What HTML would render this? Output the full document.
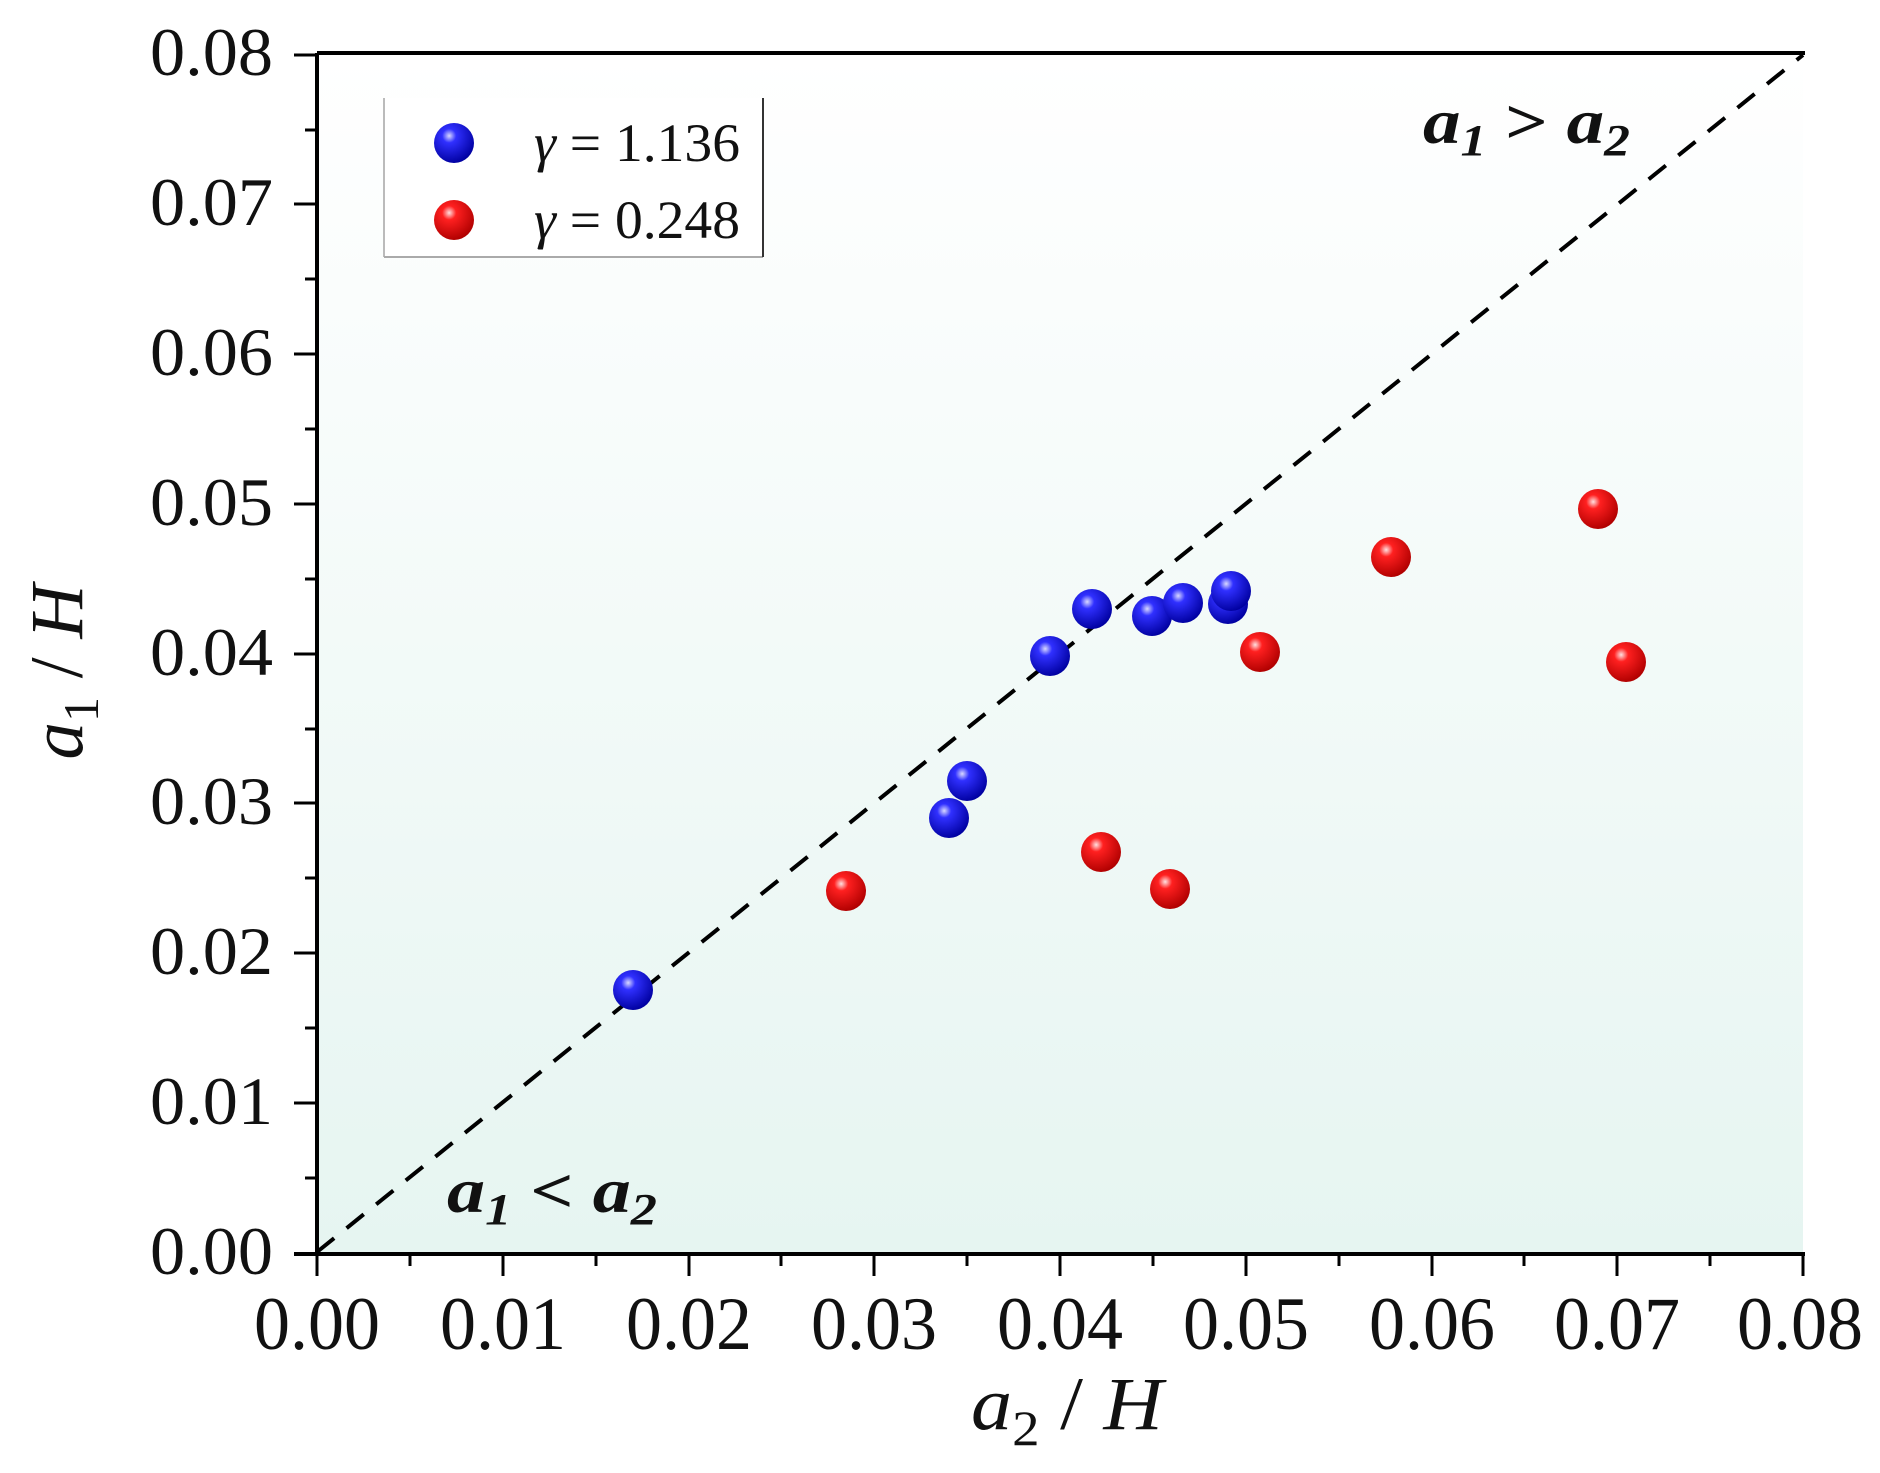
<!DOCTYPE html>
<html><head><meta charset="utf-8"><style>html,body{margin:0;padding:0;background:#fff} svg text{font-family:"Liberation Serif",serif}</style></head>
<body>
<svg width="1880" height="1468" viewBox="0 0 1880 1468" xmlns="http://www.w3.org/2000/svg">
<defs>
<linearGradient id="bg" x1="0" y1="0" x2="0" y2="1"><stop offset="0" stop-color="#ffffff"/><stop offset="1" stop-color="#e6f5f1"/></linearGradient>
<radialGradient id="gb" cx="0.38" cy="0.32" r="0.7"><stop offset="0" stop-color="#d8d8ff"/><stop offset="0.25" stop-color="#3030ff"/><stop offset="1" stop-color="#0000a0"/></radialGradient>
<radialGradient id="gr" cx="0.38" cy="0.32" r="0.7"><stop offset="0" stop-color="#ffe0e0"/><stop offset="0.25" stop-color="#ff2020"/><stop offset="1" stop-color="#b00000"/></radialGradient>
</defs>
<rect x="317" y="55" width="1486" height="1197" fill="url(#bg)"/>
<line x1="317" y1="1252" x2="1803" y2="55" stroke="#000" stroke-width="4" stroke-dasharray="22,16"/>
<g stroke="#000" stroke-width="4" fill="none">
<line x1="317" y1="53" x2="1805" y2="53"/>
<line x1="317" y1="53" x2="317" y2="1254"/>
<line x1="294" y1="1254" x2="1805" y2="1254"/>
</g>
<g stroke="#000" stroke-width="3">
<line x1="294" y1="55" x2="317" y2="55"/><line x1="305" y1="130" x2="317" y2="130"/>
<line x1="294" y1="204" x2="317" y2="204"/><line x1="305" y1="279" x2="317" y2="279"/>
<line x1="294" y1="354" x2="317" y2="354"/><line x1="305" y1="429" x2="317" y2="429"/>
<line x1="294" y1="504" x2="317" y2="504"/><line x1="305" y1="579" x2="317" y2="579"/>
<line x1="294" y1="654" x2="317" y2="654"/><line x1="305" y1="729" x2="317" y2="729"/>
<line x1="294" y1="803" x2="317" y2="803"/><line x1="305" y1="878" x2="317" y2="878"/>
<line x1="294" y1="953" x2="317" y2="953"/><line x1="305" y1="1028" x2="317" y2="1028"/>
<line x1="294" y1="1103" x2="317" y2="1103"/><line x1="305" y1="1178" x2="317" y2="1178"/>
<line x1="317" y1="1254" x2="317" y2="1276"/><line x1="410" y1="1254" x2="410" y2="1266"/>
<line x1="503" y1="1254" x2="503" y2="1276"/><line x1="596" y1="1254" x2="596" y2="1266"/>
<line x1="689" y1="1254" x2="689" y2="1276"/><line x1="781" y1="1254" x2="781" y2="1266"/>
<line x1="874" y1="1254" x2="874" y2="1276"/><line x1="967" y1="1254" x2="967" y2="1266"/>
<line x1="1060" y1="1254" x2="1060" y2="1276"/><line x1="1153" y1="1254" x2="1153" y2="1266"/>
<line x1="1246" y1="1254" x2="1246" y2="1276"/><line x1="1339" y1="1254" x2="1339" y2="1266"/>
<line x1="1432" y1="1254" x2="1432" y2="1276"/><line x1="1524" y1="1254" x2="1524" y2="1266"/>
<line x1="1617" y1="1254" x2="1617" y2="1276"/><line x1="1710" y1="1254" x2="1710" y2="1266"/>
<line x1="1803" y1="1254" x2="1803" y2="1276"/>
</g>
<g font-size="68" text-anchor="end" fill="#111">
<text x="273" y="75" textLength="123" lengthAdjust="spacingAndGlyphs">0.08</text>
<text x="273" y="225" textLength="123" lengthAdjust="spacingAndGlyphs">0.07</text>
<text x="273" y="375" textLength="123" lengthAdjust="spacingAndGlyphs">0.06</text>
<text x="273" y="525" textLength="123" lengthAdjust="spacingAndGlyphs">0.05</text>
<text x="273" y="675" textLength="123" lengthAdjust="spacingAndGlyphs">0.04</text>
<text x="273" y="824" textLength="123" lengthAdjust="spacingAndGlyphs">0.03</text>
<text x="273" y="974" textLength="123" lengthAdjust="spacingAndGlyphs">0.02</text>
<text x="273" y="1124" textLength="123" lengthAdjust="spacingAndGlyphs">0.01</text>
<text x="273" y="1274" textLength="123" lengthAdjust="spacingAndGlyphs">0.00</text>
</g>
<g font-size="75" text-anchor="middle" fill="#111">
<text x="317" y="1349" textLength="126" lengthAdjust="spacingAndGlyphs">0.00</text>
<text x="503" y="1349" textLength="126" lengthAdjust="spacingAndGlyphs">0.01</text>
<text x="689" y="1349" textLength="126" lengthAdjust="spacingAndGlyphs">0.02</text>
<text x="874" y="1349" textLength="126" lengthAdjust="spacingAndGlyphs">0.03</text>
<text x="1060" y="1349" textLength="126" lengthAdjust="spacingAndGlyphs">0.04</text>
<text x="1246" y="1349" textLength="126" lengthAdjust="spacingAndGlyphs">0.05</text>
<text x="1432" y="1349" textLength="126" lengthAdjust="spacingAndGlyphs">0.06</text>
<text x="1617" y="1349" textLength="126" lengthAdjust="spacingAndGlyphs">0.07</text>
<text x="1800" y="1349" textLength="126" lengthAdjust="spacingAndGlyphs">0.08</text>
</g>
<text x="971" y="1429" font-size="75" fill="#111" textLength="192" lengthAdjust="spacingAndGlyphs"><tspan font-style="italic">a</tspan><tspan font-size="50" dy="16">2</tspan><tspan dy="-16"> / </tspan><tspan font-style="italic">H</tspan></text>
<text transform="translate(82,672) rotate(-90)" font-size="75" text-anchor="middle" fill="#111"><tspan font-style="italic">a</tspan><tspan font-size="50" dy="16">1</tspan><tspan dy="-16"> / </tspan><tspan font-style="italic">H</tspan></text>
<text x="1423" y="143" font-size="64" font-weight="bold" font-style="italic" fill="#111" textLength="207" lengthAdjust="spacingAndGlyphs">a<tspan font-size="44" dy="12">1</tspan><tspan dy="-12" font-style="normal"> &gt; </tspan>a<tspan font-size="44" dy="12">2</tspan></text>
<text x="447" y="1212" font-size="64" font-weight="bold" font-style="italic" fill="#111" textLength="210" lengthAdjust="spacingAndGlyphs">a<tspan font-size="44" dy="12">1</tspan><tspan dy="-12" font-style="normal"> &lt; </tspan>a<tspan font-size="44" dy="12">2</tspan></text>
<rect x="384" y="98" width="379" height="159" fill="#fff"/>
<line x1="384" y1="98" x2="384" y2="257" stroke="#bbb" stroke-width="2"/>
<line x1="384" y1="257" x2="763" y2="257" stroke="#aaa" stroke-width="2"/>
<line x1="763" y1="98" x2="763" y2="257" stroke="#333" stroke-width="2"/>
<circle cx="454" cy="143" r="20" fill="url(#gb)"/>
<circle cx="454" cy="220" r="20" fill="url(#gr)"/>
<g font-size="54" fill="#111">
<text x="534" y="161" textLength="206" lengthAdjust="spacingAndGlyphs"><tspan font-style="italic">γ</tspan> = 1.136</text>
<text x="534" y="238" textLength="206" lengthAdjust="spacingAndGlyphs"><tspan font-style="italic">γ</tspan> = 0.248</text>
</g>
<g>
<circle cx="633" cy="990" r="20" fill="url(#gb)"/>
<circle cx="949" cy="818" r="20" fill="url(#gb)"/>
<circle cx="967" cy="781" r="20" fill="url(#gb)"/>
<circle cx="1050" cy="656" r="20" fill="url(#gb)"/>
<circle cx="1092" cy="609" r="20" fill="url(#gb)"/>
<circle cx="1152" cy="616" r="20" fill="url(#gb)"/>
<circle cx="1183" cy="603" r="20" fill="url(#gb)"/>
<circle cx="1228" cy="604" r="20" fill="url(#gb)"/>
<circle cx="1231" cy="591" r="20" fill="url(#gb)"/>
<circle cx="846" cy="891" r="20" fill="url(#gr)"/>
<circle cx="1101" cy="852" r="20" fill="url(#gr)"/>
<circle cx="1170" cy="889" r="20" fill="url(#gr)"/>
<circle cx="1260" cy="652" r="20" fill="url(#gr)"/>
<circle cx="1391" cy="557" r="20" fill="url(#gr)"/>
<circle cx="1598" cy="509" r="20" fill="url(#gr)"/>
<circle cx="1626" cy="662" r="20" fill="url(#gr)"/>
</g>
</svg>
</body></html>
